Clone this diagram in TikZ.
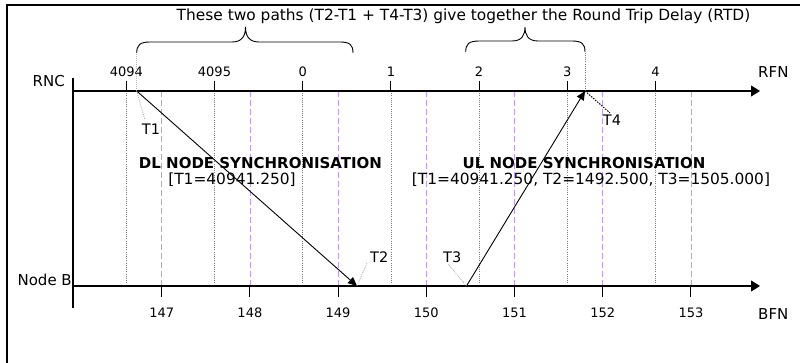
\documentclass[tikz,border=0pt]{standalone}
\usepackage{fontspec}
\setmainfont{DejaVu Sans}
\usetikzlibrary{arrows.meta, positioning, calc}
\definecolor{gridgray}{HTML}{7A7A7A}
\definecolor{leadgray}{HTML}{9A9A9A}
\definecolor{bfnpurple}{HTML}{BB99FF}

\begin{document}
\begin{tikzpicture}[x=1pt, y=-1pt,
    axis/.style={line width=1.1pt, -{Triangle[length=9pt, width=11pt]}},
    msg/.style={line width=0.9pt, -{Triangle[length=9pt, width=8pt]}},
    rfngrid/.style={gridgray, line width=0.6pt, dash pattern=on 1pt off 1.2pt},
    bfngrid/.style={bfnpurple, line width=0.8pt, dash pattern=on 6pt off 3pt},
    leader/.style={leadgray, line width=0.6pt, dash pattern=on 1pt off 1pt},
    lbl/.style={inner sep=0pt, font=\fontsize{15}{18}\selectfont},
    txt/.style={inner sep=0pt, anchor=base, font=\fontsize{15.4}{18}\selectfont},
    ticklbl/.style={inner sep=0pt, anchor=base, font=\fontsize{13}{16}\selectfont},
    brace/.style={line width=0.9pt}
  ]
  \useasboundingbox (0,0) rectangle (800,363);
  % outer frame
  \draw[line width=1.1pt] (7,363) -- (7,5) -- (800,5);

  % grid lines of both frame counters
  \foreach \lbl [count=\i from 0] in {4094,4095,0,1,2,3,4} {
    \pgfmathsetmacro{\xr}{126.3+88.2*\i}
    \draw[rfngrid] (\xr,91) -- (\xr,286);
    \draw[line width=1pt] (\xr,81) -- (\xr,91);
    \node[ticklbl] (rfn\i) at (\xr,77) {\lbl};
  }
  \foreach \lbl [count=\i from 0] in {147,148,149,150,151,152,153} {
    \pgfmathsetmacro{\xb}{161.7+88.2*\i}
    \draw[bfngrid] (\xb,91) -- (\xb,286);
    \draw[line width=1pt] (\xb,286) -- (\xb,297);
    \node[ticklbl] (bfn\i) at (\xb,317) {\lbl};
  }

  % axes
  \coordinate (rncstart) at (73,91);
  \coordinate (rncend) at (760,91);
  \coordinate (nbstart) at (73,286);
  \coordinate (nbend) at (760,286);
  \coordinate (vtop) at (73,77.7);
  \coordinate (vbot) at (73,308);
  \draw[line width=1.1pt] (vtop) -- (vbot);
  \draw[axis] (rncstart) -- (rncend);
  \draw[axis] (nbstart) -- (nbend);

  \node[lbl, anchor=base east] (rnc) at (65,87) {RNC};
  \node[lbl, anchor=base east] (nodeb) at (72,285) {Node B};
  \node[lbl, anchor=base west] (rfnlbl) at (758,78) {RFN};
  \node[lbl, anchor=base west] (bfnlbl) at (758,319) {BFN};

  % time stamps
  \coordinate (t1) at (136.7,91);
  \coordinate (t2) at (357,286);
  \coordinate (t3) at (466.5,286);
  \coordinate (t4) at (585,91);
  \coordinate (t1up) at (136.7,53);
  \coordinate (t4up) at (585,52);
  \draw[leader, leadgray!70] (t1) -- (t1up);
  \draw[rfngrid] (t4) -- (t4up);

  \draw[msg] (t1) -- (t2);
  \draw[msg] (t3) -- (t4);

  \node[lbl, anchor=base west, font=\fontsize{14.5}{17}\selectfont] (t1lbl) at (141.7,135) {T1};
  \node[lbl, anchor=base west, font=\fontsize{14.5}{17}\selectfont] (t2lbl) at (370,262) {T2};
  \node[lbl, anchor=base west, font=\fontsize{14.5}{17}\selectfont] (t3lbl) at (443,262) {T3};
  \node[lbl, anchor=base west, font=\fontsize{14.5}{17}\selectfont] (t4lbl) at (602.7,126) {T4};
  \draw[leader] (t1) -- (145,120);
  \draw[leader] (t2) -- (367,263);
  \draw[leader] (t3) -- (448,264);
  \draw[line width=1pt, dash pattern=on 1.5pt off 1.2pt] (t4) -- (610,113);

  % node synchronisation texts
  \node[lbl, anchor=base, font=\bfseries\fontsize{15}{18}\selectfont] (dltitle) at (260.5,169) {DL NODE SYNCHRONISATION};
  \node[txt] (dlvals) at (232,185) {[T1=40941.250]};
  \node[lbl, anchor=base, font=\bfseries\fontsize{15}{18}\selectfont] (ultitle) at (584,169) {UL NODE SYNCHRONISATION};
  \node[txt] (ulvals) at (591,185) {[T1=40941.250, T2=1492.500, T3=1505.000]};

  % braces and RTD note
  \draw[brace] (t1up) .. controls (136.7,45) and (140,42) .. (150,42) -- (232,42)
    .. controls (242,42) and (245.5,36) .. (245.5,27)
    .. controls (245.5,36) and (249,42) .. (259,42) -- (340,42)
    .. controls (350,42) and (353,45) .. (353,53);
  \draw[brace] (465.7,52) .. controls (465.7,44) and (469,41) .. (479,41) -- (512,41)
    .. controls (522,41) and (525,35) .. (525,27)
    .. controls (525,35) and (528,41) .. (538,41) -- (572,41)
    .. controls (582,41) and (585,44) .. (t4up);
  \node[txt] (rtdnote) at (463.5,21)
    {These two paths (T2-T1 + T4-T3) give together the Round Trip Delay (RTD)};
\end{tikzpicture}
\end{document}
